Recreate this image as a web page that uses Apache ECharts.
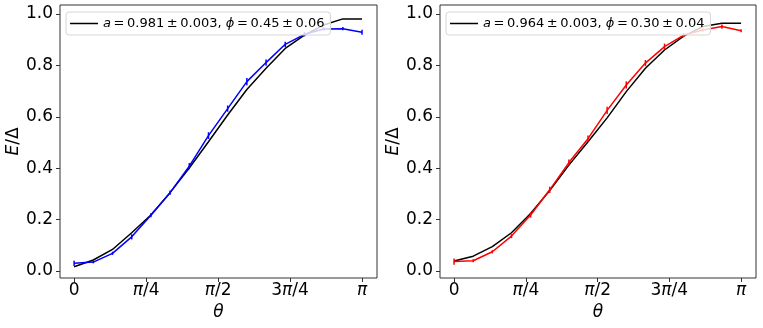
<!DOCTYPE html>
<html>
<head>
<meta charset="utf-8">
<script src="https://cdn.jsdelivr.net/npm/echarts@6/dist/echarts.min.js"></script>
<style>
	html, body { margin: 0; padding: 0; background: #fff; }
	#chart { width: 763px; height: 328px; }
</style>
</head>
<body>
<div id="chart"></div>
<script>
// theta in units of pi
var theta = [0, 0.0667, 0.1333, 0.2, 0.2667, 0.3333, 0.4, 0.4667, 0.5333, 0.6, 0.6667, 0.7333, 0.8, 0.8667, 0.9333, 1];
var xTicks = [0, 0.25, 0.5, 0.75, 1];
var xTickLabels = ['0', '{i|π}/4', '{i|π}/2', '3{i|π}/4', '{i|π}'];
var yTicks = [0, 0.2, 0.4, 0.6, 0.8, 1.0];

var blueE = [0.030, 0.035, 0.069, 0.133, 0.217, 0.305, 0.408, 0.527, 0.632, 0.737, 0.811, 0.882, 0.921, 0.942, 0.943, 0.929];
var blueErr = [0.010, 0.005, 0.006, 0.010, 0.008, 0.008, 0.012, 0.013, 0.012, 0.014, 0.012, 0.010, 0.008, 0.006, 0.006, 0.010];
var leftFit = [0.017, 0.043, 0.084, 0.149, 0.218, 0.305, 0.401, 0.503, 0.607, 0.706, 0.789, 0.866, 0.918, 0.957, 0.981, 0.981];

var redE = [0.037, 0.040, 0.075, 0.136, 0.218, 0.316, 0.422, 0.515, 0.625, 0.724, 0.809, 0.873, 0.918, 0.938, 0.951, 0.935];
var redErr = [0.012, 0.006, 0.006, 0.008, 0.010, 0.012, 0.012, 0.012, 0.014, 0.014, 0.012, 0.012, 0.008, 0.006, 0.008, 0.006];
var rightFit = [0.039, 0.058, 0.095, 0.149, 0.224, 0.313, 0.412, 0.503, 0.596, 0.698, 0.789, 0.860, 0.914, 0.951, 0.964, 0.964];

// thin spaces like matplotlib mathtext
var leftLabel = '{i|a}\u2009=\u20090.981\u2009±\u20090.003, {i|ϕ}\u2009=\u20090.45\u2009±\u20090.06';
var rightLabel = '{i|a}\u2009=\u20090.964\u2009±\u20090.003, {i|ϕ}\u2009=\u20090.30\u2009±\u20090.04';

function pairs(xs, ys) {
	var out = [];
	for (var i = 0; i < xs.length; i++) out.push([xs[i], ys[i]]);
	return out;
}
function errData(xs, ys, es) {
	var out = [];
	for (var i = 0; i < xs.length; i++) out.push([xs[i], ys[i] - es[i], ys[i] + es[i]]);
	return out;
}
function errSeries(idx, data, color) {
	return {
		type : 'custom',
		xAxisIndex : idx,
		yAxisIndex : idx,
		z : 3,
		data : data,
		renderItem : function(params, api) {
			var lo = api.coord([api.value(0), api.value(1)]);
			var hi = api.coord([api.value(0), api.value(2)]);
			return {
				type : 'line',
				shape : { x1 : lo[0], y1 : lo[1], x2 : hi[0], y2 : hi[1] },
				style : { stroke : color, lineWidth : 1.5 }
			};
		}
	};
}

var font = 'DejaVu Sans';
var axisColor = '#333';

function xAxis(idx) {
	return {
		type : 'value',
		gridIndex : idx,
		min : -0.049,
		max : 1.052,
		name : 'θ',
		nameLocation : 'middle',
		nameGap : 25,
		nameTextStyle : { fontFamily : font, fontSize : 17, fontStyle : 'italic', color : '#000' },
		splitLine : { show : false },
		axisLine : { show : false, onZero : false },
		axisTick : { show : true, length : 4, lineStyle : { color : axisColor }, customValues : xTicks },
		axisLabel : {
			customValues : xTicks,
			margin : 4,
			fontFamily : font,
			fontSize : 17,
			color : '#000',
			rich : { i : { fontFamily : font, fontSize : 17, fontStyle : 'italic', color : '#000' } },
			formatter : function(v) {
				var i = xTicks.indexOf(v);
				return i >= 0 ? xTickLabels[i] : '';
			}
		}
	};
}
function yAxis(idx) {
	return {
		type : 'value',
		gridIndex : idx,
		min : -0.027,
		max : 1.035,
		name : '{i|E}/Δ',
		nameLocation : 'middle',
		nameGap : 38,
		nameTextStyle : {
			fontFamily : font, fontSize : 17, color : '#000',
			rich : { i : { fontFamily : font, fontSize : 17, fontStyle : 'italic', color : '#000' } }
		},
		splitLine : { show : false },
		axisLine : { show : false, onZero : false },
		axisTick : { show : true, length : 4, lineStyle : { color : axisColor }, customValues : yTicks },
		axisLabel : {
			customValues : yTicks,
			margin : 7,
			fontFamily : font,
			fontSize : 17,
			color : '#000',
			formatter : function(v) { return v.toFixed(1); }
		}
	};
}
function legend(left, name) {
	return {
		left : left,
		top : 12,
		padding : [5, 6, 5, 4],
		icon : 'rect',
		itemWidth : 28,
		itemHeight : 1.5,
		itemGap : 8,
		backgroundColor : 'rgba(255,255,255,0.8)',
		borderColor : '#d6d6d6',
		borderWidth : 1,
		borderRadius : 3,
		z : 10,
		data : [ name ],
		textStyle : {
			fontFamily : font,
			fontSize : 13,
			color : '#000',
			rich : { i : { fontFamily : font, fontSize : 13, fontStyle : 'italic', color : '#000' } }
		}
	};
}

var myChart = echarts.init(document.getElementById('chart'));
var option = {
	animation : false,
	backgroundColor : '#fff',
	grid : [
		{ left : 60, right : 386, top : 5, bottom : 50, show : true, borderColor : axisColor, borderWidth : 1 },
		{ left : 440, right : 7, top : 5, bottom : 50, show : true, borderColor : axisColor, borderWidth : 1 }
	],
	xAxis : [ xAxis(0), xAxis(1) ],
	yAxis : [ yAxis(0), yAxis(1) ],
	legend : [ legend(66, leftLabel), legend(446, rightLabel) ],
	series : [ {
		name : leftLabel,
		type : 'line',
		xAxisIndex : 0,
		yAxisIndex : 0,
		data : pairs(theta, leftFit),
		symbol : 'none',
		lineStyle : { color : '#000', width : 1.5 },
		itemStyle : { color : '#000' },
		z : 2
	}, {
		type : 'line',
		xAxisIndex : 0,
		yAxisIndex : 0,
		data : pairs(theta, blueE),
		symbol : 'none',
		lineStyle : { color : '#0000ff', width : 1.5 },
		z : 3
	}, errSeries(0, errData(theta, blueE, blueErr), '#0000ff'), {
		name : rightLabel,
		type : 'line',
		xAxisIndex : 1,
		yAxisIndex : 1,
		data : pairs(theta, rightFit),
		symbol : 'none',
		lineStyle : { color : '#000', width : 1.5 },
		itemStyle : { color : '#000' },
		z : 2
	}, {
		type : 'line',
		xAxisIndex : 1,
		yAxisIndex : 1,
		data : pairs(theta, redE),
		symbol : 'none',
		lineStyle : { color : '#ff0000', width : 1.5 },
		z : 3
	}, errSeries(1, errData(theta, redE, redErr), '#ff0000') ]
};
myChart.setOption(option);
</script>
</body>
</html>
